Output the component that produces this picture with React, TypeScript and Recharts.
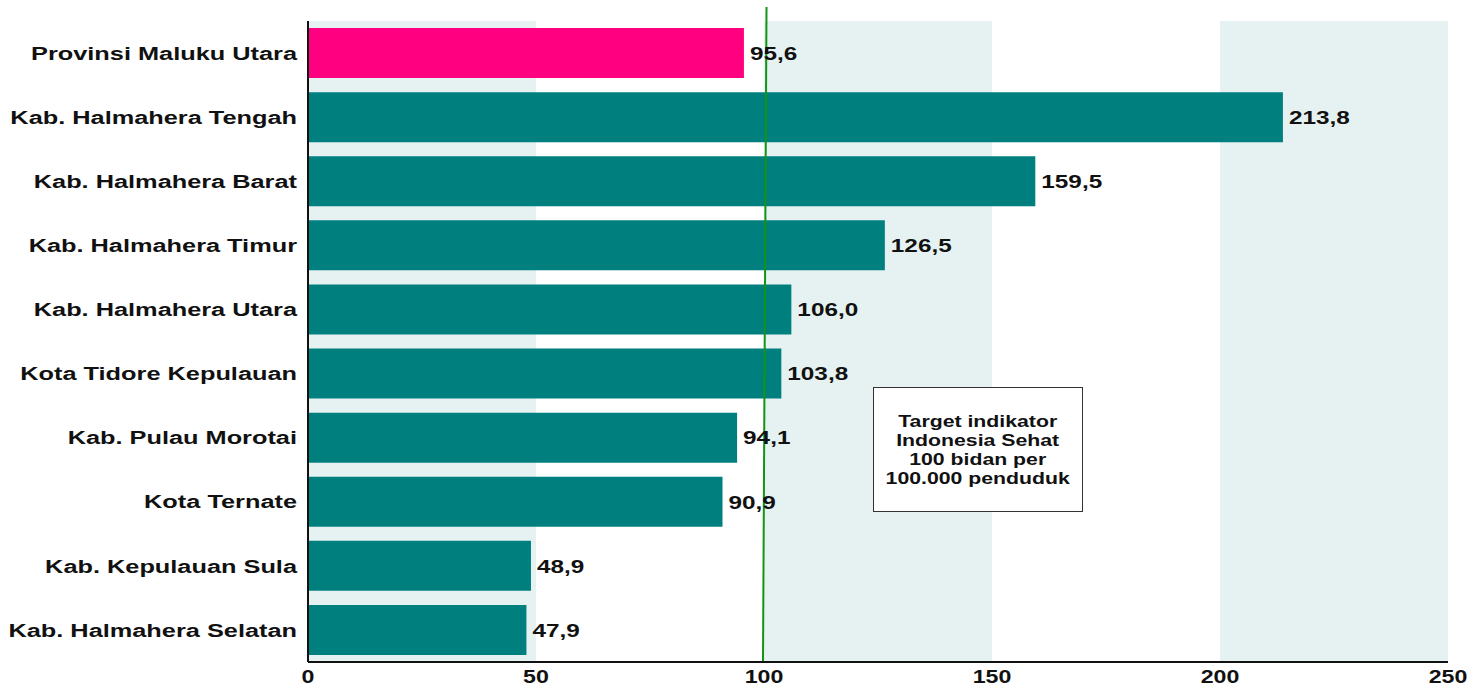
import React from 'react'
import { BarChart, Bar, XAxis, YAxis, Cell, LabelList, ReferenceArea, ReferenceLine } from 'recharts'

const regions = [
  'Provinsi Maluku Utara',
  'Kab. Halmahera Tengah',
  'Kab. Halmahera Barat',
  'Kab. Halmahera Timur',
  'Kab. Halmahera Utara',
  'Kota Tidore Kepulauan',
  'Kab. Pulau Morotai',
  'Kota Ternate',
  'Kab. Kepulauan Sula',
  'Kab. Halmahera Selatan',
]
const ratios = [95.6, 213.8, 159.5, 126.5, 106.0, 103.8, 94.1, 90.9, 48.9, 47.9]
const xTicks = [0, 50, 100, 150, 200, 250]
const shadedBands: [number, number][] = [
  [0, 50],
  [100, 150],
  [200, 250],
]
const target = 100

const data = regions.map((name, i) => ({ name, value: ratios[i] }))

const FONT = '"Liberation Sans", Arial, sans-serif'
const INK = '#111'

const fmt = (v: unknown) => Number(v).toFixed(1).replace('.', ',')

// the source image is stretched sideways, so the text gets widened with scale(sx,1)
function XTick({ x, y, payload }: any) {
  return (
    <text
      transform={`translate(${x},${y + 21}) scale(1.22,1)`}
      textAnchor="middle"
      fill={INK}
      fontSize={19}
      fontWeight={700}
      fontFamily={FONT}
    >
      {payload.value}
    </text>
  )
}

function YTick({ x, y, payload }: any) {
  return (
    <text
      transform={`translate(${x},${y}) scale(1.37,1)`}
      dy="0.36em"
      textAnchor="end"
      fill={INK}
      fontSize={18.5}
      fontWeight={700}
      fontFamily={FONT}
    >
      {payload.value}
    </text>
  )
}

function ValueLabel({ x, y, width, height, value }: any) {
  return (
    <text
      transform={`translate(${Number(x) + Number(width) + 6},${Number(y) + Number(height) / 2}) scale(1.28,1)`}
      dy="0.36em"
      fill={INK}
      fontSize={19}
      fontWeight={700}
      fontFamily={FONT}
    >
      {fmt(value)}
    </text>
  )
}

export default function App() {
  return (
    <div style={{ position: 'absolute', left: 0, top: 0, width: 1482, height: 689, background: '#fff', fontFamily: FONT }}>
      <BarChart
        width={1482}
        height={689}
        data={data}
        layout="vertical"
        margin={{ top: 21, right: 34, left: 0, bottom: 2 }}
        barCategoryGap="11%"
      >
        {shadedBands.map(([a, b]) => (
          <ReferenceArea key={a} x1={a} x2={b} fill="#e6f2f2" fillOpacity={1} stroke="none" />
        ))}
        <XAxis
          type="number"
          domain={[0, 250]}
          ticks={xTicks}
          axisLine={{ stroke: INK, strokeWidth: 2 }}
          tickLine={false}
          tickSize={0}
          tickMargin={0}
          height={25}
          tick={<XTick />}
        />
        <YAxis
          type="category"
          dataKey="name"
          width={308}
          axisLine={{ stroke: INK, strokeWidth: 2 }}
          tickLine={false}
          tickSize={0}
          tickMargin={11}
          interval={0}
          tick={<YTick />}
        />
        <Bar dataKey="value" fill="#007f7f" isAnimationActive={false}>
          {data.map((d, i) => (
            <Cell key={d.name} fill={i === 0 ? '#ff0080' : '#007f7f'} />
          ))}
          <LabelList dataKey="value" content={<ValueLabel />} />
        </Bar>
        <ReferenceLine
          x={target}
          stroke="#149414"
          strokeWidth={2}
          shape={(p: any) => {
            const top = Math.min(p.y1, p.y2) - 14
            const bottom = Math.max(p.y1, p.y2)
            return <line x1={p.x1 + 2.5} y1={top} x2={p.x2 - 1} y2={bottom} stroke="#149414" strokeWidth={2} />
          }}
        />
      </BarChart>
      <div
        style={{
          position: 'absolute',
          left: 873,
          top: 387,
          width: 210,
          height: 125,
          border: '1.5px solid #333',
          background: '#fff',
          boxSizing: 'border-box',
          display: 'flex',
          alignItems: 'center',
          justifyContent: 'center',
          textAlign: 'center',
          fontSize: 17,
          fontWeight: 700,
          lineHeight: '19px',
          color: INK,
        }}
      >
        <div style={{ transform: 'scaleX(1.25)', whiteSpace: 'nowrap' }}>
          Target indikator
          <br />
          Indonesia Sehat
          <br />
          100 bidan per
          <br />
          100.000 penduduk
        </div>
      </div>
    </div>
  )
}
